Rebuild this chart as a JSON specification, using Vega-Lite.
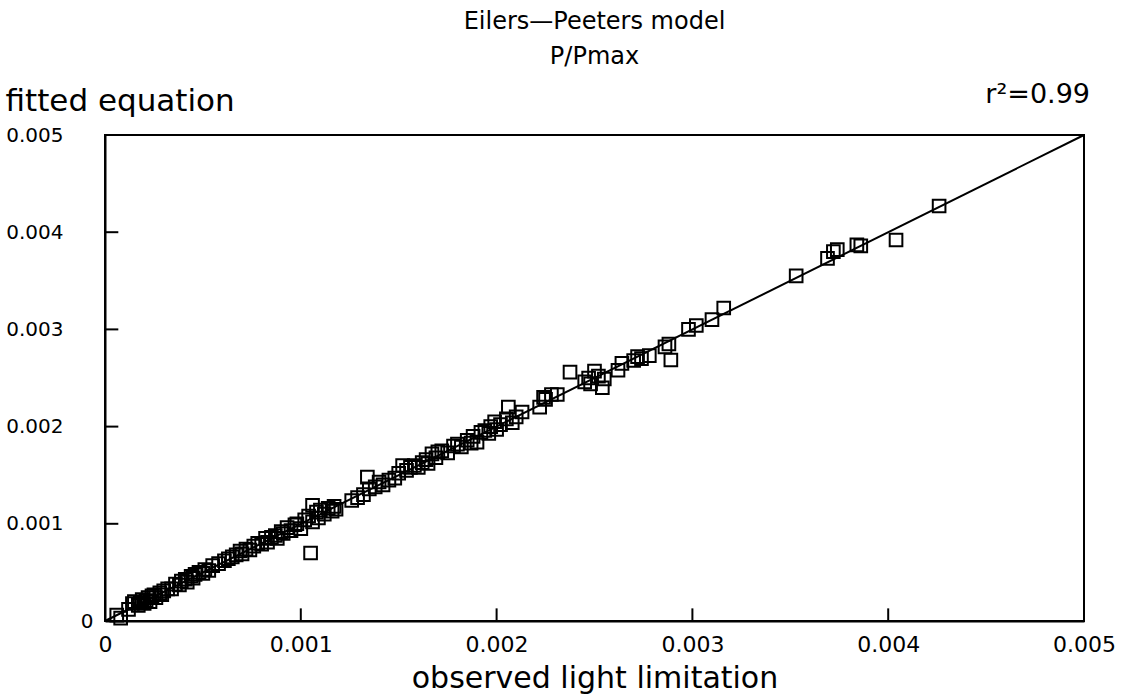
{
  "$schema": "https://vega.github.io/schema/vega-lite/v6.json",
  "width": 979,
  "height": 486,
  "autosize": {"type": "none"},
  "padding": {"left": 105, "top": 135, "right": 47, "bottom": 74},
  "background": "white",
  "config": {"view": {"stroke": "black", "strokeWidth": 2}, "font": "DejaVu Sans"},
  "title": {"text": ["Eilers—Peeters model", "P/Pmax"], "fontSize": 24, "fontWeight": "normal", "anchor": "middle", "frame": "group", "offset": 12, "lineHeight": 35, "color": "black", "font": "DejaVu Sans"},
  "resolve": {"axis": {"y": "independent"}},
  "datasets": {
    "pts": [
      {"obs": 0.00006, "fit": 0.00006}, {"obs": 0.00008, "fit": 0.00003}, {"obs": 0.00012, "fit": 0.00012}, {"obs": 0.00014, "fit": 0.00018},
      {"obs": 0.00015, "fit": 0.0002}, {"obs": 0.00017, "fit": 0.00016}, {"obs": 0.00018, "fit": 0.00019}, {"obs": 0.00019, "fit": 0.00022},
      {"obs": 0.0002, "fit": 0.00018}, {"obs": 0.00021, "fit": 0.00021}, {"obs": 0.00022, "fit": 0.00024}, {"obs": 0.00023, "fit": 0.0002},
      {"obs": 0.00024, "fit": 0.00026}, {"obs": 0.00025, "fit": 0.00027}, {"obs": 0.00026, "fit": 0.00024}, {"obs": 0.00028, "fit": 0.00029},
      {"obs": 0.00029, "fit": 0.00027}, {"obs": 0.0003, "fit": 0.00031}, {"obs": 0.00032, "fit": 0.00033}, {"obs": 0.00034, "fit": 0.00033},
      {"obs": 0.00036, "fit": 0.00038}, {"obs": 0.00038, "fit": 0.00037}, {"obs": 0.00039, "fit": 0.00041}, {"obs": 0.00041, "fit": 0.00043},
      {"obs": 0.00042, "fit": 0.0004}, {"obs": 0.00044, "fit": 0.00046}, {"obs": 0.00045, "fit": 0.00044}, {"obs": 0.00046, "fit": 0.00048},
      {"obs": 0.00048, "fit": 0.0005}, {"obs": 0.0005, "fit": 0.00049}, {"obs": 0.00051, "fit": 0.00053}, {"obs": 0.00053, "fit": 0.00052},
      {"obs": 0.00055, "fit": 0.00057}, {"obs": 0.00058, "fit": 0.00059}, {"obs": 0.00061, "fit": 0.00062}, {"obs": 0.00063, "fit": 0.00064},
      {"obs": 0.00065, "fit": 0.00066}, {"obs": 0.00067, "fit": 0.00068}, {"obs": 0.00069, "fit": 0.00072}, {"obs": 0.0007, "fit": 0.00069},
      {"obs": 0.00072, "fit": 0.00074}, {"obs": 0.00074, "fit": 0.00073}, {"obs": 0.00076, "fit": 0.00077}, {"obs": 0.00078, "fit": 0.0008},
      {"obs": 0.0008, "fit": 0.00079}, {"obs": 0.00082, "fit": 0.00085}, {"obs": 0.00083, "fit": 0.00081}, {"obs": 0.00085, "fit": 0.00086},
      {"obs": 0.00087, "fit": 0.00088}, {"obs": 0.00088, "fit": 0.00085}, {"obs": 0.0009, "fit": 0.00092}, {"obs": 0.00091, "fit": 0.0009},
      {"obs": 0.00093, "fit": 0.00096}, {"obs": 0.00095, "fit": 0.00093}, {"obs": 0.00097, "fit": 0.00099}, {"obs": 0.00098, "fit": 0.001},
      {"obs": 0.001, "fit": 0.00095}, {"obs": 0.00102, "fit": 0.00104}, {"obs": 0.00104, "fit": 0.00108}, {"obs": 0.00105, "fit": 0.0007},
      {"obs": 0.00106, "fit": 0.00102}, {"obs": 0.00106, "fit": 0.00119}, {"obs": 0.00108, "fit": 0.00112}, {"obs": 0.00109, "fit": 0.00106},
      {"obs": 0.0011, "fit": 0.00114}, {"obs": 0.00112, "fit": 0.0011}, {"obs": 0.00114, "fit": 0.00116}, {"obs": 0.00116, "fit": 0.00113},
      {"obs": 0.00117, "fit": 0.00118}, {"obs": 0.00118, "fit": 0.00115}, {"obs": 0.00126, "fit": 0.00124}, {"obs": 0.00129, "fit": 0.00127},
      {"obs": 0.00132, "fit": 0.0013}, {"obs": 0.00134, "fit": 0.00148}, {"obs": 0.00135, "fit": 0.00136}, {"obs": 0.00138, "fit": 0.00138},
      {"obs": 0.0014, "fit": 0.00143}, {"obs": 0.00142, "fit": 0.0014}, {"obs": 0.00145, "fit": 0.00145}, {"obs": 0.00148, "fit": 0.00147},
      {"obs": 0.0015, "fit": 0.00152}, {"obs": 0.00152, "fit": 0.0016}, {"obs": 0.00154, "fit": 0.00155}, {"obs": 0.00156, "fit": 0.00158},
      {"obs": 0.00158, "fit": 0.0016}, {"obs": 0.0016, "fit": 0.00158}, {"obs": 0.00162, "fit": 0.00163}, {"obs": 0.00164, "fit": 0.00166},
      {"obs": 0.00165, "fit": 0.00162}, {"obs": 0.00167, "fit": 0.00172}, {"obs": 0.00169, "fit": 0.00168}, {"obs": 0.0017, "fit": 0.00174},
      {"obs": 0.00172, "fit": 0.00175}, {"obs": 0.00175, "fit": 0.00173}, {"obs": 0.00178, "fit": 0.0018}, {"obs": 0.0018, "fit": 0.00182},
      {"obs": 0.00182, "fit": 0.00179}, {"obs": 0.00185, "fit": 0.00186}, {"obs": 0.00187, "fit": 0.00183}, {"obs": 0.00188, "fit": 0.0019},
      {"obs": 0.0019, "fit": 0.00184}, {"obs": 0.00192, "fit": 0.00194}, {"obs": 0.00194, "fit": 0.00196}, {"obs": 0.00196, "fit": 0.00193},
      {"obs": 0.00197, "fit": 0.002}, {"obs": 0.00199, "fit": 0.00205}, {"obs": 0.002, "fit": 0.00197}, {"obs": 0.00202, "fit": 0.00202},
      {"obs": 0.00205, "fit": 0.00208}, {"obs": 0.00206, "fit": 0.0022}, {"obs": 0.00208, "fit": 0.00204}, {"obs": 0.0021, "fit": 0.0021},
      {"obs": 0.00213, "fit": 0.00215}, {"obs": 0.00222, "fit": 0.0022}, {"obs": 0.00224, "fit": 0.0023}, {"obs": 0.00225, "fit": 0.00228},
      {"obs": 0.00228, "fit": 0.00233}, {"obs": 0.00231, "fit": 0.00233}, {"obs": 0.002375, "fit": 0.00256}, {"obs": 0.00245, "fit": 0.00246},
      {"obs": 0.00247, "fit": 0.0025}, {"obs": 0.00248, "fit": 0.00244}, {"obs": 0.0025, "fit": 0.00257}, {"obs": 0.00252, "fit": 0.00252},
      {"obs": 0.00254, "fit": 0.0024}, {"obs": 0.00255, "fit": 0.00249}, {"obs": 0.00262, "fit": 0.00258}, {"obs": 0.00264, "fit": 0.00265},
      {"obs": 0.0027, "fit": 0.00268}, {"obs": 0.00272, "fit": 0.00272}, {"obs": 0.00274, "fit": 0.0027}, {"obs": 0.00278, "fit": 0.00273},
      {"obs": 0.00286, "fit": 0.00282}, {"obs": 0.00288, "fit": 0.00285}, {"obs": 0.00289, "fit": 0.002685}, {"obs": 0.00298, "fit": 0.003},
      {"obs": 0.00302, "fit": 0.00304}, {"obs": 0.0031, "fit": 0.0031}, {"obs": 0.00316, "fit": 0.00322}, {"obs": 0.00353, "fit": 0.00355},
      {"obs": 0.00369, "fit": 0.00373}, {"obs": 0.00372, "fit": 0.0038}, {"obs": 0.00374, "fit": 0.00382}, {"obs": 0.00384, "fit": 0.00387},
      {"obs": 0.00386, "fit": 0.00386}, {"obs": 0.00404, "fit": 0.00392}, {"obs": 0.00426, "fit": 0.00427}
    ],
    "ticks": [{"v": 0.001}, {"v": 0.002}, {"v": 0.003}, {"v": 0.004}]
  },
  "layer": [
    {
      "data": {"values": [{"obs": 0, "fit": 0}, {"obs": 0.005, "fit": 0.005}]},
      "mark": {"type": "line", "color": "black", "strokeWidth": 2},
      "encoding": {
        "x": {
          "field": "obs", "type": "quantitative",
          "scale": {"domain": [0, 0.005], "nice": false, "zero": false},
          "axis": {
            "values": [0, 0.001, 0.002, 0.003, 0.004, 0.005],
            "format": ".3~f",
            "grid": false,
            "domainColor": "black", "domainWidth": 2,
            "ticks": false,
            "labelColor": "black", "labelFontSize": 22, "labelFont": "DejaVu Sans", "labelPadding": 13,
            "labelFlush": false, "labelOverlap": false,
            "title": "observed light limitation",
            "titleFont": "DejaVu Sans", "titleFontSize": 30, "titleFontWeight": "normal", "titleColor": "black",
            "titleY": 57, "titleBaseline": "middle"
          }
        },
        "y": {
          "field": "fit", "type": "quantitative",
          "scale": {"domain": [0, 0.005], "nice": false, "zero": false},
          "axis": {
            "orient": "left",
            "values": [0.001, 0.002, 0.003, 0.004, 0.005],
            "format": ".3~f",
            "grid": false,
            "domainColor": "black", "domainWidth": 2,
            "ticks": false,
            "labelColor": "black", "labelFontSize": 20, "labelFont": "DejaVu Sans", "labelPadding": 42,
            "labelFlush": false, "labelOverlap": false,
            "title": "fitted equation",
            "titleFont": "DejaVu Sans", "titleFontSize": 31, "titleFontWeight": "normal", "titleColor": "black",
            "titleAngle": 0, "titleAlign": "left", "titleBaseline": "middle", "titleX": -100, "titleY": -34
          }
        }
      }
    },
    {
      "data": {"name": "pts"},
      "mark": {"type": "point", "shape": "square", "size": 160, "filled": false, "stroke": "black", "strokeWidth": 2, "opacity": 1},
      "encoding": {
        "x": {"field": "obs", "type": "quantitative"},
        "y": {
          "field": "fit", "type": "quantitative",
          "axis": {
            "orient": "left",
            "values": [0],
            "format": ".3~f",
            "grid": false,
            "domain": false,
            "ticks": false,
            "labelColor": "black", "labelFontSize": 20, "labelFont": "DejaVu Sans", "labelPadding": 12,
            "labelFlush": false, "labelOverlap": false,
            "title": null
          }
        }
      }
    },
    {
      "data": {"name": "ticks"},
      "mark": {"type": "rule", "color": "black", "strokeWidth": 2},
      "encoding": {
        "x": {"field": "v", "type": "quantitative"},
        "y": {"datum": 0, "type": "quantitative", "axis": null},
        "y2": {"datum": 0.00013}
      }
    },
    {
      "data": {"name": "ticks"},
      "mark": {"type": "rule", "color": "black", "strokeWidth": 2},
      "encoding": {
        "y": {"field": "v", "type": "quantitative", "axis": null},
        "x": {"datum": 0, "type": "quantitative"},
        "x2": {"datum": 0.000068}
      }
    },
    {
      "data": {"values": [{"obs": 0.005, "fit": 0.005, "label": "r²=0.99"}]},
      "mark": {"type": "text", "align": "right", "baseline": "bottom", "dx": 6, "dy": -26, "fontSize": 27, "font": "DejaVu Sans", "color": "black"},
      "encoding": {
        "x": {"field": "obs", "type": "quantitative"},
        "y": {"field": "fit", "type": "quantitative", "axis": null},
        "text": {"field": "label"}
      }
    }
  ]
}
